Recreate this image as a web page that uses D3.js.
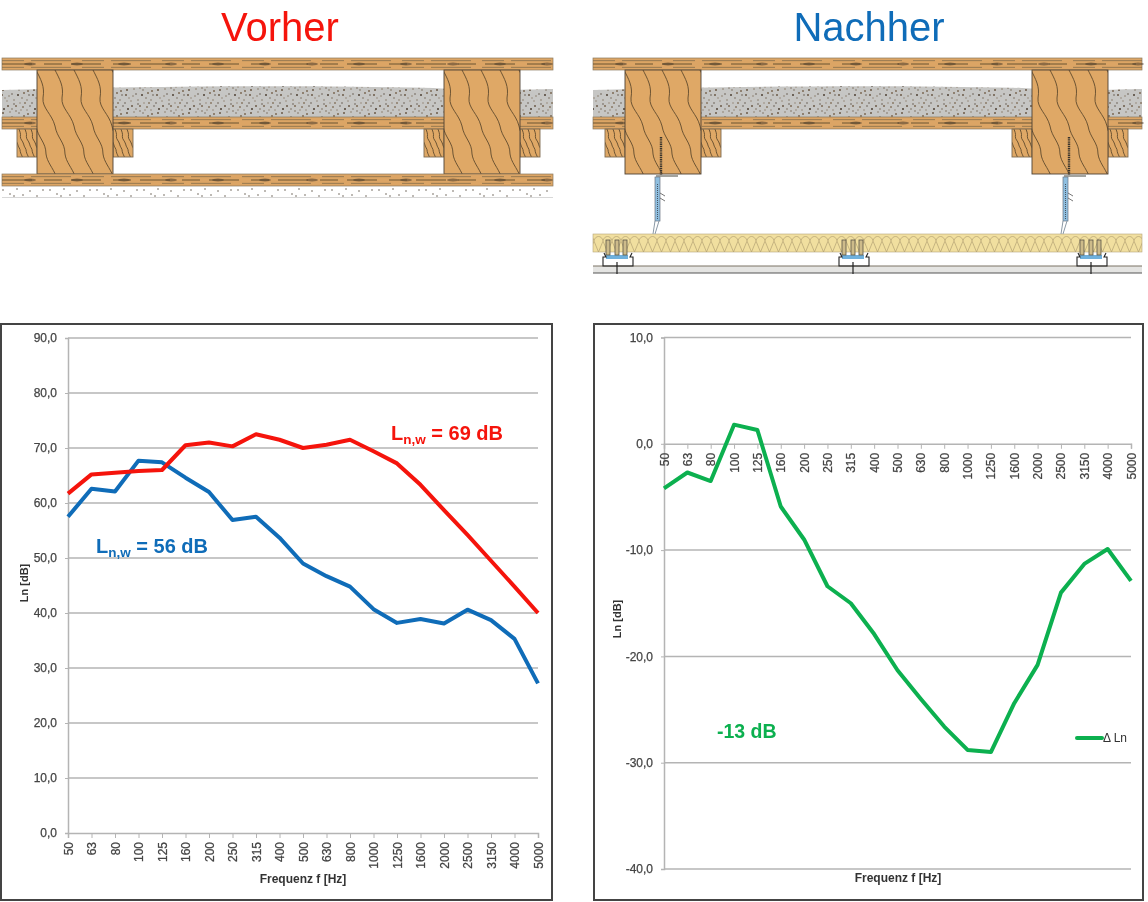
<!DOCTYPE html>
<html><head><meta charset="utf-8">
<script src="https://cdn.jsdelivr.net/npm/d3@7/dist/d3.min.js"></script>
<style>
html,body{margin:0;padding:0;background:#fff;overflow:hidden}
svg{display:block;filter:blur(.35px)}
text{font-family:"Liberation Sans",Arial,sans-serif}
.tick text{fill:#444;font-size:12px;font-weight:400;stroke:#444;stroke-width:.25px}
</style></head><body>
<svg id="c" width="1148" height="902"></svg>
<script>
const frequencies = [50,63,80,100,125,160,200,250,315,400,500,630,800,1000,1250,1600,2000,2500,3150,4000,5000];
const vorher  = [61.7,65.2,65.5,65.8,66.0,70.5,71.0,70.3,72.5,71.5,70.0,70.6,71.5,69.4,67.2,63.3,58.7,54.2,49.5,44.8,40.0];
const nachher = [57.5,62.6,62.1,67.7,67.4,64.6,62.0,56.9,57.5,53.7,49.0,46.7,44.8,40.7,38.2,38.9,38.1,40.6,38.7,35.3,27.2];
const delta   = [-4.2,-2.7,-3.5,1.8,1.3,-5.9,-9.0,-13.4,-15.0,-17.9,-21.3,-24.0,-26.6,-28.8,-29.0,-24.4,-20.8,-14.0,-11.3,-9.9,-12.9];
const leftTicks  = [0,10,20,30,40,50,60,70,80,90];
const rightTicks = [10,0,-10,-20,-30,-40];
const RED="#f5140c", BLUE="#0f6cb8", GREEN="#0cb04f", GRID="#b4b4b4", FRAME="#444";
const fmt = v => v.toFixed(1).replace(".", ",");

const svg = d3.select("#c");
const defs = svg.append("defs");

/* ---------- textures for the construction drawings ---------- */
const gravel = defs.append("pattern").attr("id","gravel").attr("patternUnits","userSpaceOnUse").attr("width",31).attr("height",23);
gravel.append("rect").attr("width",31).attr("height",23).attr("fill","#c6c6c4");
const gravelDots=[[2,3],[7,9],[12,2],[16,14],[22,6],[27,18],[4,17],[10,20],[19,21],[25,11],[29,3],[14,8],[8,14],[20,11],[1,11],[24,1],[16,19],[5,6],[18,3],[27,8],[12,17],[23,15],[30,14],[9,4],[3,21],[21,18],[14,12],[28,22]];
const gravelCols=["#6b5a48","#8a7a66","#4e4034","#7d6a55"];
gravel.selectAll("circle").data(gravelDots).join("circle").attr("cx",d=>d[0]).attr("cy",d=>d[1]).attr("r",(d,i)=>i%3?0.7:1).attr("fill",(d,i)=>gravelCols[i%4]);

const speck = defs.append("pattern").attr("id","speck").attr("patternUnits","userSpaceOnUse").attr("width",47).attr("height",11);
speck.selectAll("circle").data([[3,3],[10,7],[17,2],[23,8],[30,4],[37,9],[43,3],[14,9]])
  .join("circle").attr("cx",d=>d[0]).attr("cy",d=>d[1]).attr("r",.8).attr("fill","#6a6256");

const foam = defs.append("pattern").attr("id","foam").attr("patternUnits","userSpaceOnUse").attr("width",9).attr("height",18);
foam.append("rect").attr("width",9).attr("height",18).attr("fill","#f1df9f");
foam.append("path").attr("d","M0,7 C1,1 8,1 9,7 M0,7 L4.5,18 L9,7").attr("fill","none").attr("stroke","#a8956a").attr("stroke-width",.6);

function plank(g,x,y,w,h){
  g.append("rect").attr("x",x).attr("y",y).attr("width",w).attr("height",h).attr("fill","#dca565").attr("stroke","#8b7a5f").attr("stroke-width",.7);
  [.22,.5,.78].forEach((f,i)=>{
    g.append("line").attr("x1",x).attr("x2",x+w).attr("y1",y+h*f).attr("y2",y+h*f)
      .attr("stroke",i==1?"#6a5433":"#86704c").attr("stroke-width",i==1?1:.8)
      .attr("stroke-dasharray",i==1?"30 12 18 9":"22 7 40 11");
  });
  for(let kx=x+22;kx<x+w;kx+=47){
    g.append("ellipse").attr("cx",kx+6).attr("cy",y+h/2).attr("rx",6).attr("ry",1.4).attr("fill","#4a3c2b").attr("opacity",.55);
  }
}
let clipCount=0;
function wood(g,x,y,w,h,step,stroke){
  const id="woodclip"+(clipCount++);
  defs.append("clipPath").attr("id",id).append("rect").attr("x",x).attr("y",y).attr("width",w).attr("height",h);
  g.append("rect").attr("x",x).attr("y",y).attr("width",w).attr("height",h).attr("fill","#dfa866");
  const s=g.append("g").attr("clip-path",`url(#${id})`);
  const k=h/104;
  for(let o=-40*k;o<w+step;o+=step){
    const X=o+x, Y=y;
    const d=`M${X},${Y-2} C${X+6*k},${Y+10*k} ${X+10*k},${Y+16*k} ${X+8*k},${Y+28*k} C${X+7*k},${Y+38*k} ${X+17*k},${Y+44*k} ${X+20*k},${Y+56*k} C${X+22*k},${Y+68*k} ${X+30*k},${Y+72*k} ${X+30*k},${Y+84*k} C${X+31*k},${Y+92*k} ${X+37*k},${Y+98*k} ${X+40*k},${Y+h+2}`;
    s.append("path").attr("d",d).attr("fill","none").attr("stroke","#5f4a2c").attr("stroke-width",.9);
  }
  g.append("rect").attr("x",x).attr("y",y).attr("width",w).attr("height",h).attr("fill","none").attr("stroke",stroke).attr("stroke-width",.9);
}
function structure(g,x0,x1,b1,b2){
  plank(g,x0,58,x1-x0,12);
  g.append("path").attr("d",`M${x0},90 C${x0+150},86 ${x0+300},85 ${x1-120},88 C${x1-60},92 ${x1-20},89 ${x1},89 L${x1},118 L${x0},118 Z`).attr("fill","url(#gravel)");
  plank(g,x0,117,x1-x0,12);
  [b1-20,b1+76,b2-20,b2+76].forEach(x=>wood(g,x,129,20,28,6,"#7e6b50"));
  wood(g,b1,70,76,104,19,"#4e4233");
  wood(g,b2,70,76,104,19,"#4e4233");
}

/* Vorher */
const dl = svg.append("g");
structure(dl,2,553,37,444);
plank(dl,2,174,551,12);
dl.append("rect").attr("x",2).attr("y",186).attr("width",551).attr("height",11).attr("fill","url(#speck)");
dl.append("line").attr("x1",2).attr("x2",553).attr("y1",197.5).attr("y2",197.5).attr("stroke","#d8d8d8");

/* Nachher */
const dr = svg.append("g");
structure(dr,593,1142,625,1032);
function hanger(g,x){
  g.append("path").attr("d",`M${x+1},137 L${x+1},175`).attr("stroke","#3a342c").attr("stroke-width",2.4).attr("stroke-dasharray","1.4 .8");
  g.append("path").attr("d",`M${x-4},176 L${x+18},176`).attr("stroke","#8c8c86").attr("stroke-width",1.6);
  g.append("rect").attr("x",x-5).attr("y",177).attr("width",5).attr("height",44).attr("fill","#8fbfe0").attr("stroke","#6a7480").attr("stroke-width",.7);
  g.append("line").attr("x1",x-2.5).attr("x2",x-2.5).attr("y1",184).attr("y2",220).attr("stroke","#3f4650").attr("stroke-width",.9).attr("stroke-dasharray","1 1");
  g.append("path").attr("d",`M${x},193 l5,3 M${x},198 l5,3`).attr("stroke","#555").attr("stroke-width",.8);
  g.append("path").attr("d",`M${x-5},221 L${x-7},234 M${x-1},221 L${x-5},234`).attr("stroke","#8a98a4").attr("stroke-width",1);
}
function channel(g,cx){
  g.append("rect").attr("x",cx-11).attr("y",255).attr("width",22).attr("height",4).attr("fill","#6fb0dc");
  [-9,0,8].forEach(d=>g.append("rect").attr("x",cx+d-2).attr("y",240).attr("width",4).attr("height",15).attr("fill","#cdbb8a").attr("stroke","#5a5548").attr("stroke-width",.8));
  g.append("path").attr("d",`M${cx-13},253 l2,4 h-3 v9 h30 v-9 h-3 l2,-4`).attr("fill","none").attr("stroke","#222").attr("stroke-width",1.1);
  g.append("line").attr("x1",cx).attr("x2",cx).attr("y1",262).attr("y2",274).attr("stroke","#222").attr("stroke-width",1.2);
}
dr.append("rect").attr("x",593).attr("y",234).attr("width",549).attr("height",18).attr("fill","url(#foam)").attr("stroke","#b5a67c").attr("stroke-width",.6);
dr.append("rect").attr("x",593).attr("y",266).attr("width",549).attr("height",7).attr("fill","#e4e4e2");
dr.append("line").attr("x1",593).attr("x2",1142).attr("y1",266).attr("y2",266).attr("stroke","#7a7264");
dr.append("line").attr("x1",593).attr("x2",1142).attr("y1",273).attr("y2",273).attr("stroke","#555");
hanger(dr,660); hanger(dr,1068);
[617,853,1091].forEach(cx=>channel(dr,cx));

/* titles */
svg.append("text").attr("x",280).attr("y",41).attr("text-anchor","middle").attr("font-size",40).attr("fill",RED).text("Vorher");
svg.append("text").attr("x",869).attr("y",41).attr("text-anchor","middle").attr("font-size",40).attr("fill",BLUE).text("Nachher");

/* ---------- charts ---------- */
function frame(x,y,w,h){
  svg.append("rect").attr("x",x).attr("y",y).attr("width",w).attr("height",h).attr("fill","#fff").attr("stroke",FRAME).attr("stroke-width",2);
}
function styleAxis(g){
  g.selectAll("path.domain").attr("stroke",GRID).attr("stroke-width",1.5);
  g.selectAll(".tick line").attr("stroke",GRID).attr("stroke-width",1);
}
function chart(o){
  const x = d3.scalePoint().domain(frequencies).range(o.xr);
  const y = d3.scaleLinear().domain(o.yd).range(o.yr);
  const g = svg.append("g");
  g.append("g").selectAll("line").data(o.ticks.filter(t=>t!==o.base)).join("line")
    .attr("x1",o.xr[0]).attr("x2",o.xr[1]).attr("y1",d=>y(d)).attr("y2",d=>y(d))
    .attr("stroke",GRID).attr("stroke-width",1.5);
  const ya = g.append("g").attr("transform",`translate(${o.xr[0]},0)`)
    .call(d3.axisLeft(y).tickValues(o.ticks).tickFormat(fmt).tickSize(3).tickPadding(8));
  styleAxis(ya);
  const xa = g.append("g").attr("transform",`translate(0,${y(o.base)})`)
    .call(d3.axisBottom(x).tickSize(5).tickPadding(0));
  styleAxis(xa);
  xa.selectAll(".tick text").attr("text-anchor","end").attr("dy",0).attr("y",0)
    .attr("transform","translate(4,9) rotate(-90)");
  const line = d3.line().x((d,i)=>x(frequencies[i])).y(d=>y(d));
  o.series.forEach(s=>{
    g.append("path").datum(s.values).attr("d",line).attr("fill","none").attr("stroke",s.color)
      .attr("stroke-width",4).attr("stroke-linejoin","round");
  });
  g.append("text").attr("x",o.xTitle[0]).attr("y",o.xTitle[1]).attr("text-anchor","middle")
    .attr("font-size",12).attr("font-weight",700).attr("fill","#333").text("Frequenz f [Hz]");
  g.append("text").attr("transform",`translate(${o.yTitle[0]},${o.yTitle[1]}) rotate(-90)`).attr("text-anchor","middle")
    .attr("font-size",11).attr("font-weight",700).attr("fill","#333").text("Ln [dB]");
}
function lnw(x,y,color,txt){
  const t = svg.append("text").attr("x",x).attr("y",y).attr("font-size",20).attr("font-weight",700).attr("fill",color);
  t.append("tspan").text("L");
  t.append("tspan").attr("font-size",13.5).attr("dy",4).text("n,w");
  t.append("tspan").attr("dy",-4).text(" = "+txt);
}

frame(1,324,551,576);
frame(594,324,549,576);

chart({xr:[68,538],yd:[0,90],yr:[833,338],ticks:leftTicks,base:0,
  series:[{values:nachher,color:BLUE},{values:vorher,color:RED}],xTitle:[303,883],yTitle:[28,583]});
chart({xr:[664,1131],yd:[-40,10],yr:[869,337.5],ticks:rightTicks,base:0,
  series:[{values:delta,color:GREEN}],xTitle:[898,882],yTitle:[621,619]});

lnw(391,440,RED,"69 dB");
lnw(96,553,BLUE,"56 dB");
svg.append("text").attr("x",717).attr("y",738).attr("font-size",19.5).attr("font-weight",700).attr("fill",GREEN).text("-13 dB");
svg.append("line").attr("x1",1077).attr("x2",1102).attr("y1",738).attr("y2",738).attr("stroke",GREEN).attr("stroke-width",4).attr("stroke-linecap","round");
svg.append("text").attr("x",1103).attr("y",742).attr("font-size",12).attr("fill","#333").text("Δ Ln");
</script>
</body></html>
